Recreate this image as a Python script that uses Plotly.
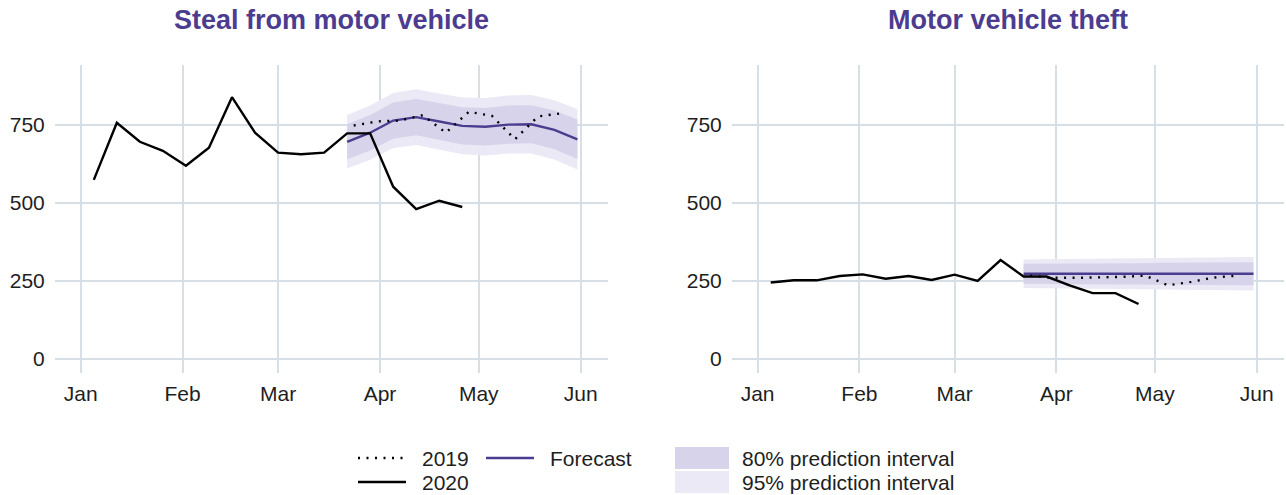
import plotly.graph_objects as go

# ---------------- data ----------------
weeks_2020 = ["2020-01-05", "2020-01-12", "2020-01-19", "2020-01-26", "2020-02-02",
              "2020-02-09", "2020-02-16", "2020-02-23", "2020-03-01", "2020-03-08",
              "2020-03-15", "2020-03-22", "2020-03-29", "2020-04-05", "2020-04-12",
              "2020-04-19", "2020-04-26"]
weeks_2019 = ["2020-03-24", "2020-03-31", "2020-04-07", "2020-04-14", "2020-04-21",
              "2020-04-28", "2020-05-05", "2020-05-12", "2020-05-19", "2020-05-26"]
weeks_fc = ["2020-03-22", "2020-03-29", "2020-04-05", "2020-04-12", "2020-04-19",
            "2020-04-26", "2020-05-03", "2020-05-10", "2020-05-17", "2020-05-24",
            "2020-05-31"]

steal_2020 = [574, 757, 696, 667, 619, 677, 839, 725, 661, 656, 661, 723, 723, 552, 480, 507, 487]
steal_2019 = [748, 761, 764, 781, 725, 792, 779, 704, 777, 787]
steal_fc = [696, 725, 764, 775, 761, 747, 744, 751, 752, 734, 704]
steal_lo80 = [640, 668, 706, 717, 702, 687, 684, 690, 691, 672, 641]
steal_hi80 = [752, 782, 822, 833, 820, 807, 804, 812, 813, 796, 767]
steal_lo95 = [610, 638, 676, 686, 671, 656, 652, 658, 658, 639, 607]
steal_hi95 = [782, 812, 852, 864, 851, 838, 836, 844, 846, 829, 801]

mvt_2020 = [245, 252, 252, 266, 271, 257, 266, 253, 270, 250, 317, 264, 264, 236, 211, 211, 176]
mvt_2019 = [267, 260, 260, 261, 263, 267, 236, 247, 261, 267]
mvt_fc = [273, 273, 273, 273, 273, 273, 273, 273, 273, 273, 273]
mvt_lo80 = [241, 241, 240, 240, 239, 239, 238, 238, 237, 237, 236]
mvt_hi80 = [305, 305, 306, 306, 307, 307, 308, 308, 309, 309, 310]
mvt_lo95 = [227, 226, 225, 224, 224, 223, 222, 221, 221, 220, 219]
mvt_hi95 = [319, 320, 321, 322, 322, 323, 324, 325, 325, 326, 327]

titles = ["Steal from motor vehicle", "Motor vehicle theft"]
month_ticks = ["2020-01-01", "2020-02-01", "2020-03-01", "2020-04-01", "2020-05-01", "2020-06-01"]
month_labels = ["Jan", "Feb", "Mar", "Apr", "May", "Jun"]
y_ticks = [0, 250, 500, 750]
legend_lines = ["2019", "2020", "Forecast"]
legend_bands = ["80% prediction interval", "95% prediction interval"]

# ---------------- style ----------------
W, H = 1286, 495
PURPLE = "#4B3C8F"
C80 = "#D7D3EA"
C95 = "#EBE9F5"
GRID = "#D6DEE6"
TXT = "#1E1E1E"
FONT = "Liberation Sans, Arial, Helvetica, sans-serif"
DOT = "2px,6.5px"
LW = 2.4


def px(x):
    return x / W


def py(y):
    return 1 - y / H


fig = go.Figure()

panels = [
    (steal_2020, steal_2019, steal_fc, steal_lo80, steal_hi80, steal_lo95, steal_hi95),
    (mvt_2020, mvt_2019, mvt_fc, mvt_lo80, mvt_hi80, mvt_lo95, mvt_hi95),
]

for i, (s20, s19, fc, lo80, hi80, lo95, hi95) in enumerate(panels):
    xa = "x" if i == 0 else "x2"
    ya = "y" if i == 0 else "y2"
    fig.add_trace(go.Scatter(x=weeks_fc + weeks_fc[::-1], y=hi95 + lo95[::-1],
                             fill="toself", fillcolor=C95, line=dict(width=0),
                             mode="lines", hoverinfo="skip", showlegend=False,
                             xaxis=xa, yaxis=ya))
    fig.add_trace(go.Scatter(x=weeks_fc + weeks_fc[::-1], y=hi80 + lo80[::-1],
                             fill="toself", fillcolor=C80, line=dict(width=0),
                             mode="lines", hoverinfo="skip", showlegend=False,
                             xaxis=xa, yaxis=ya))
    fig.add_trace(go.Scatter(x=weeks_fc, y=fc, mode="lines",
                             line=dict(color=PURPLE, width=LW),
                             showlegend=False, xaxis=xa, yaxis=ya))
    fig.add_trace(go.Scatter(x=weeks_2019, y=s19, mode="lines",
                             line=dict(color="black", width=LW, dash=DOT),
                             showlegend=False, xaxis=xa, yaxis=ya))
    fig.add_trace(go.Scatter(x=weeks_2020, y=s20, mode="lines",
                             line=dict(color="black", width=LW),
                             showlegend=False, xaxis=xa, yaxis=ya))

# axis domains (paper coords, margins are zero)
dom_x = [[px(55), px(608)], [px(732), px(1284)]]
dom_y = [py(373), py(65)]
xrange = ["2019-12-24 05:00", "2020-06-09 07:00"]
yrange = [-45, 942]

xcommon = dict(type="date", range=xrange, tickvals=month_ticks, ticktext=month_labels,
               showgrid=True, gridcolor=GRID, gridwidth=2, zeroline=False,
               showline=False, ticks="outside", ticklen=2, tickcolor="rgba(0,0,0,0)",
               tickfont=dict(size=21, color=TXT, family=FONT), fixedrange=True)
ycommon = dict(range=yrange, tickvals=y_ticks, showgrid=True, gridcolor=GRID,
               gridwidth=2, zeroline=False, showline=False, ticks="outside",
               ticklen=5, tickcolor="rgba(0,0,0,0)",
               tickfont=dict(size=21, color=TXT, family=FONT), fixedrange=True)

fig.update_layout(
    width=W, height=H,
    margin=dict(l=0, r=0, t=0, b=0, autoexpand=False),
    paper_bgcolor="white", plot_bgcolor="white",
    showlegend=False,
    hovermode=False,
    xaxis=dict(domain=dom_x[0], anchor="y", **xcommon),
    yaxis=dict(domain=dom_y, anchor="x", **ycommon),
    xaxis2=dict(domain=dom_x[1], anchor="y2", **xcommon),
    yaxis2=dict(domain=dom_y, anchor="x2", **ycommon),
    font=dict(family=FONT, color=TXT),
)

# titles
for i, t in enumerate(titles):
    fig.add_annotation(text="<b>" + t + "</b>", x=(dom_x[i][0] + dom_x[i][1]) / 2,
                       y=py(20), xref="paper", yref="paper", showarrow=False,
                       xanchor="center", yanchor="middle", borderpad=0,
                       font=dict(size=27, color=PURPLE, family=FONT))

# manual legend
leg_font = dict(size=21, color=TXT, family=FONT)
# 2019 dotted
fig.add_shape(type="line", xref="paper", yref="paper", x0=px(358), x1=px(406),
              y0=py(458), y1=py(458), line=dict(color="black", width=LW, dash=DOT))
fig.add_annotation(text=legend_lines[0], x=px(420), y=py(458), xref="paper", yref="paper",
                   showarrow=False, xanchor="left", yanchor="middle", font=leg_font)
# 2020 solid
fig.add_shape(type="line", xref="paper", yref="paper", x0=px(358), x1=px(406),
              y0=py(482), y1=py(482), line=dict(color="black", width=LW))
fig.add_annotation(text=legend_lines[1], x=px(420), y=py(482), xref="paper", yref="paper",
                   showarrow=False, xanchor="left", yanchor="middle", font=leg_font)
# forecast
fig.add_shape(type="line", xref="paper", yref="paper", x0=px(486), x1=px(534),
              y0=py(458), y1=py(458), line=dict(color=PURPLE, width=LW))
fig.add_annotation(text=legend_lines[2], x=px(548), y=py(458), xref="paper", yref="paper",
                   showarrow=False, xanchor="left", yanchor="middle", font=leg_font)
# bands
fig.add_shape(type="rect", xref="paper", yref="paper", x0=px(675), x1=px(729),
              y0=py(469), y1=py(447), line=dict(width=0), fillcolor=C80)
fig.add_annotation(text=legend_bands[0], x=px(740), y=py(458), xref="paper", yref="paper",
                   showarrow=False, xanchor="left", yanchor="middle", font=leg_font)
fig.add_shape(type="rect", xref="paper", yref="paper", x0=px(675), x1=px(729),
              y0=py(493), y1=py(471), line=dict(width=0), fillcolor=C95)
fig.add_annotation(text=legend_bands[1], x=px(740), y=py(482), xref="paper", yref="paper",
                   showarrow=False, xanchor="left", yanchor="middle", font=leg_font)

fig.write_html("out.html", config={"displayModeBar": False},
               post_script="document.body.style.margin='0';document.body.style.overflow='hidden';")
